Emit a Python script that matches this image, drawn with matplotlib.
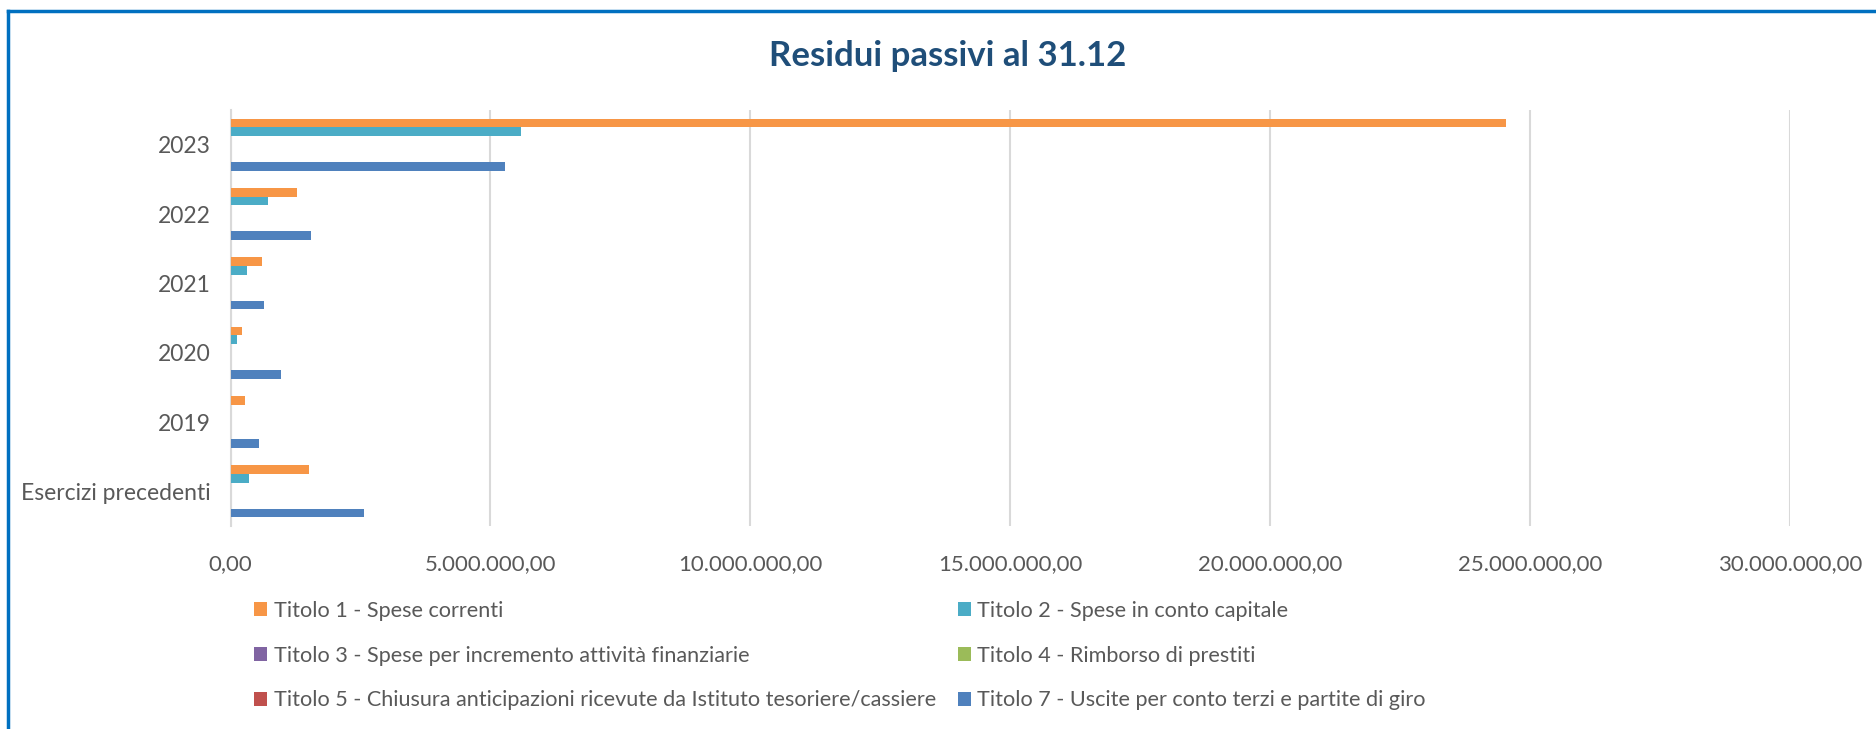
import matplotlib
matplotlib.use("Agg")
import matplotlib.pyplot as plt
from matplotlib.lines import Line2D
from matplotlib.patches import Patch
import numpy as np

plt.rcParams['font.family'] = ['Lato', 'DejaVu Sans']

# data (euro)
categories = ['2023', '2022', '2021', '2020', '2019', 'Esercizi precedenti']
series_names = [
    'Titolo 1 - Spese correnti',
    'Titolo 2 - Spese in conto capitale',
    'Titolo 3 - Spese per incremento attività finanziarie',
    'Titolo 4 - Rimborso di prestiti',
    'Titolo 5 - Chiusura anticipazioni ricevute da Istituto tesoriere/cassiere',
    'Titolo 7 - Uscite per conto terzi e partite di giro',
]
titolo1 = [24530000, 1280000, 600000, 220000, 270000, 1510000]
titolo2 = [5590000, 730000, 310000, 130000, 0, 360000]
titolo3 = [0, 0, 0, 0, 0, 0]
titolo4 = [0, 0, 0, 0, 0, 0]
titolo5 = [0, 0, 0, 0, 0, 0]
titolo7 = [5280000, 1540000, 650000, 980000, 550000, 2560000]
xticks = [0, 5000000, 10000000, 15000000, 20000000, 25000000, 30000000]

colors = ['#F79646', '#4BACC6', '#8064A2', '#9BBB59', '#C0504D', '#4F81BD']
text_col = '#595959'

fig = plt.figure(figsize=(18.76, 7.29), dpi=100)
ax = fig.add_axes([230.5/1876, 1-526/729, (1790-230.5)/1876, (526-110)/729])

values = [titolo1, titolo2, titolo3, titolo4, titolo5, titolo7]
pos = np.arange(len(categories))
h = 0.125
for i, vals in enumerate(values):
    ax.barh(pos + (i - 2.5)*h, vals, height=h, color=colors[i], zorder=3)

ax.set_xlim(0, 30000000)
ax.set_ylim(len(categories) - 0.5, -0.5)
ax.set_yticks(pos)
ax.set_yticklabels(categories)
ax.set_xticks(xticks)
# italian number format: 5.000.000,00
ax.set_xticklabels([f"{v:,.2f}".replace(',', 'X').replace('.', ',').replace('X', '.') for v in xticks])
ax.tick_params(axis='both', length=0, colors=text_col)
ax.tick_params(axis='y', pad=14, labelsize=16.5)
ax.tick_params(axis='x', pad=20, labelsize=16)
ax.grid(axis='x', color='#D9D9D9', linewidth=1.5, zorder=0)
for s in ['top', 'right', 'bottom']:
    ax.spines[s].set_visible(False)
ax.spines['left'].set_color('#D9D9D9')
ax.spines['left'].set_linewidth(1.5)

fig.text(948/1876, 1-56/729, 'Residui passivi al 31.12', ha='center', va='center',
         fontsize=25, fontweight='bold', color='#1F4E79')

# legend filled row by row: reorder for matplotlib's column-wise fill
handles = [Patch(facecolor=c, edgecolor='none') for c in colors]
order = [0, 2, 4, 1, 3, 5]
leg = fig.legend([handles[k] for k in order], [series_names[k] for k in order],
                 ncol=2, loc='upper left', bbox_to_anchor=(245/1876, 1-592/729),
                 frameon=False, fontsize=15.6, handlelength=0.62, handleheight=0.62,
                 handletextpad=0.3, columnspacing=1.0, labelspacing=1.15,
                 labelcolor=text_col, borderaxespad=0)

# border lines, top and left only
fig.add_artist(Line2D([8/1876, 1], [1-11/729, 1-11/729], color='#0070C0', linewidth=2.5))
fig.add_artist(Line2D([8/1876, 8/1876], [0, 1-11/729], color='#0070C0', linewidth=2.5))

fig.savefig('out.png', dpi=100)
